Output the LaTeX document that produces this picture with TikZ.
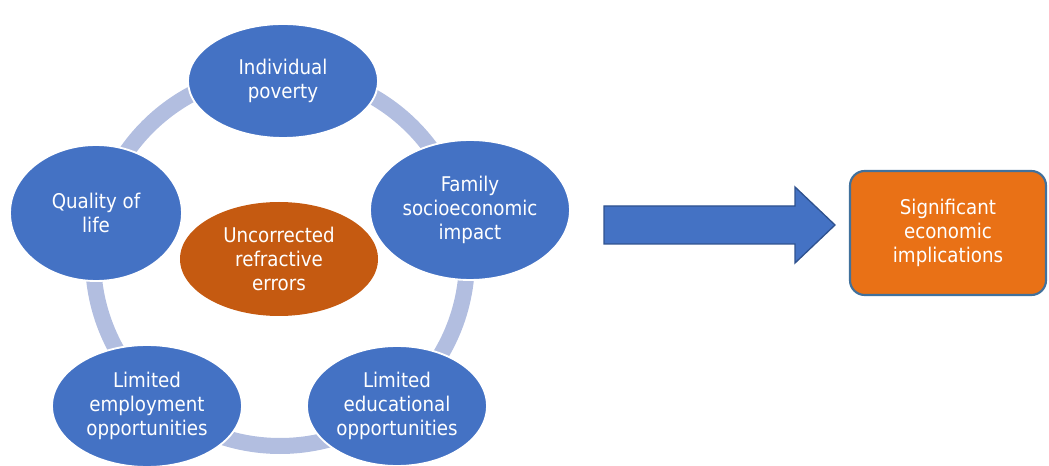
\documentclass[tikz,border=0pt]{standalone}
\usepackage{fontspec}
\setmainfont{DejaVu Sans Condensed}
\usetikzlibrary{shapes.geometric}

\definecolor{cycleblue}{RGB}{68,114,196}
\definecolor{ringblue}{RGB}{178,190,224}
\definecolor{causeorange}{RGB}{197,90,17}
\definecolor{resultorange}{RGB}{233,113,22}
\definecolor{arrowedge}{RGB}{47,82,143}
\definecolor{boxedge}{RGB}{65,113,156}

\begin{document}
\begin{tikzpicture}[x=0.75pt,y=-0.75pt]
\tikzstyle{txt}=[text=white,align=center,inner sep=0pt,font=\fontsize{15.2}{18}\selectfont];
\tikzstyle{cyc}=[txt,ellipse,fill=cycleblue,draw=white,line width=1.4pt];
\tikzstyle{ring}=[draw=ringblue,line width=12pt];

\useasboundingbox (0,0) rectangle (1049,466);

% the cycle ring behind the ellipses
\coordinate (hub) at (280,259);
\draw [ring] (hub) circle [radius=187];

\node [cyc,minimum width=190*0.75pt,minimum height=114*0.75pt] (pov) at (283,81) {Individual\\poverty};
\node [cyc,minimum width=200*0.75pt,minimum height=140*0.75pt] (fam) at (470,210) {Family\\socioeconomic\\impact};
\node [cyc,minimum width=180*0.75pt,minimum height=120*0.75pt] (edu) at (397,406) {Limited\\educational\\opportunities};
\node [cyc,minimum width=190*0.75pt,minimum height=122*0.75pt] (emp) at (147,406) {Limited\\employment\\opportunities};
\node [cyc,minimum width=172*0.75pt,minimum height=136*0.75pt] (qol) at (96,213) {Quality of\\life};

\node [txt,ellipse,fill=causeorange,minimum width=198*0.75pt,minimum height=114*0.75pt] (cause) at (279,259) {Uncorrected\\refractive\\errors};

% block arrow
\coordinate (a1) at (604,206);
\coordinate (a2) at (795,206);
\coordinate (a3) at (795,187);
\coordinate (tip) at (835,225);
\coordinate (a5) at (795,263);
\coordinate (a6) at (795,244);
\coordinate (a7) at (604,244);
\draw [fill=cycleblue,draw=arrowedge,line width=1pt,line join=miter] (a1) -- (a2) -- (a3) -- (tip) -- (a5) -- (a6) -- (a7) -- cycle;

\node [txt,rectangle,rounded corners=11pt,fill=resultorange,draw=boxedge,line width=1.6pt,minimum width=196*0.75pt,minimum height=124*0.75pt] (res) at (948,233) {Significant\\economic\\implications};
\end{tikzpicture}
\end{document}
